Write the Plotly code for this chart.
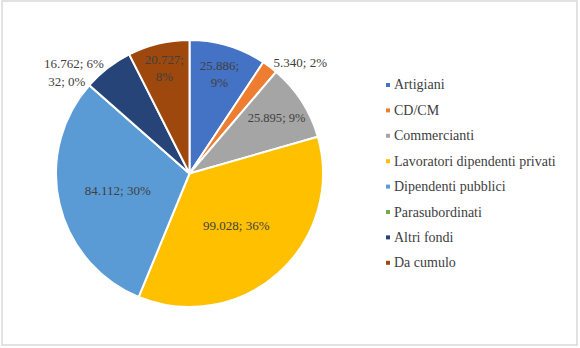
import plotly.graph_objects as go

categories = ["Artigiani", "CD/CM", "Commercianti", "Lavoratori dipendenti privati",
              "Dipendenti pubblici", "Parasubordinati", "Altri fondi", "Da cumulo"]
values = [25886, 5340, 25895, 99028, 84112, 32, 16762, 20727]
pct_labels = ["9%", "2%", "9%", "36%", "30%", "0%", "6%", "8%"]
colors = ["#4472C4", "#ED7D31", "#A5A5A5", "#FFC000", "#5B9BD5", "#70AD47", "#264478", "#9E480E"]
text_pos = ["inside", "outside", "inside", "inside", "inside", "outside", "outside", "inside"]
separator = ["<br>", " ", " ", " ", " ", " ", " ", "<br>"]

W, H = 580, 348
FONT = "Liberation Serif, Times New Roman, serif"
TXT = "#404040"

cx, cy, r = 189.5, 173.5, 133.5

fig = go.Figure(go.Pie(
    labels=categories,
    values=values,
    customdata=[[p, s] for p, s in zip(pct_labels, separator)],
    texttemplate="%{value:,};%{customdata[1]}%{customdata[0]}",
    textposition=text_pos,
    insidetextorientation="horizontal",
    textfont=dict(family=FONT, size=13, color=TXT),
    marker=dict(colors=colors, line=dict(color="white", width=2)),
    sort=False,
    direction="clockwise",
    rotation=0,
    hole=0,
    showlegend=False,
    domain=dict(x=[(cx - r) / W, (cx + r) / W], y=[(H - cy - r) / H, (H - cy + r) / H]),
))

# Legend drawn from the category list
leg_x, leg_top, leg_step = 388, 85, 25.4
for i, (lab, col) in enumerate(zip(categories, colors)):
    yc = leg_top + i * leg_step
    fig.add_shape(type="rect", xref="paper", yref="paper",
                  x0=(leg_x - 2) / W, x1=(leg_x + 2) / W,
                  y0=(H - yc - 2) / H, y1=(H - yc + 2) / H,
                  fillcolor=col, line=dict(width=0))
    fig.add_annotation(xref="paper", yref="paper", x=(leg_x + 4) / W, y=(H - yc) / H,
                       xanchor="left", yanchor="middle", showarrow=False, text=lab,
                       font=dict(family=FONT, size=14, color=TXT))

# outer chart frame
fig.add_shape(type="rect", xref="paper", yref="paper",
              x0=2 / W, x1=577 / W, y0=3 / H, y1=347 / H,
              line=dict(color="#D9D9D9", width=1.5), fillcolor="rgba(0,0,0,0)")

fig.update_layout(
    width=W, height=H,
    margin=dict(l=0, r=0, t=0, b=0),
    paper_bgcolor="white", plot_bgcolor="white",
    separators=",.",
    font=dict(family=FONT, color=TXT),
)

fig.write_html("out.html")
